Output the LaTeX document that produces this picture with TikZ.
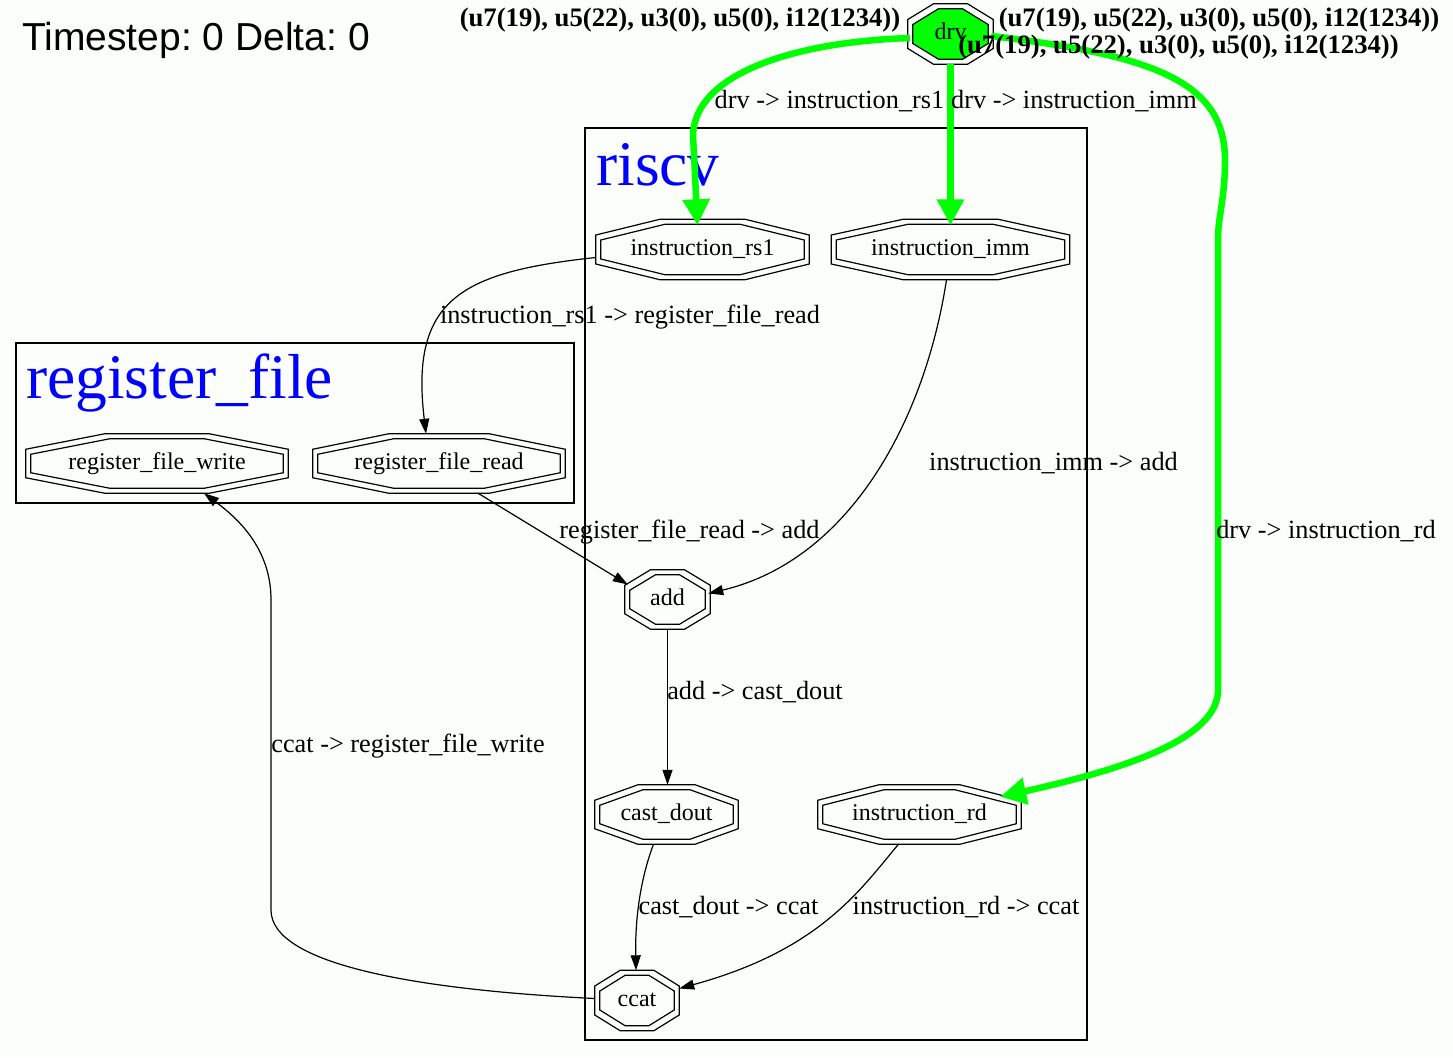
\documentclass[tikz,border=0pt]{standalone}
\usepackage{fontspec}
\setmainfont{Liberation Serif}
\newfontfamily\sansf{Liberation Sans}
\usetikzlibrary{calc,arrows.meta}
\definecolor{bg}{RGB}{252,254,252}
\definecolor{grn}{RGB}{0,255,0}
% double-octagon outline: #1 node name, #2 inset (px), #3 draw options
\newcommand\octo[3]{%
  \draw[#3] ($(#1.north west)!0.3!(#1.north east)+(#2,#2)$)
    -- ($(#1.north west)!0.7!(#1.north east)+(-#2,#2)$)
    -- ($(#1.north east)!0.26!(#1.south east)+(-#2,#2)$)
    -- ($(#1.north east)!0.74!(#1.south east)+(-#2,-#2)$)
    -- ($(#1.south west)!0.7!(#1.south east)+(-#2,-#2)$)
    -- ($(#1.south west)!0.3!(#1.south east)+(#2,-#2)$)
    -- ($(#1.north west)!0.74!(#1.south west)+(#2,-#2)$)
    -- ($(#1.north west)!0.26!(#1.south west)+(#2,#2)$)
    -- cycle;}
\newcommand\dbloct[2][]{\octo{#2}{0}{octline}\octo{#2}{5}{octline,#1}}
\frenchspacing
\begin{document}
\begin{tikzpicture}[x=1pt,y=-1pt,
  oct/.style={rectangle, inner sep=0pt, text height=16pt, text depth=5pt,
              font=\fontsize{24}{28}\selectfont},
  octline/.style={line width=1.2pt, draw=black},
  elab/.style={anchor=base, inner sep=0pt, font=\fontsize{26.3}{30}\selectfont},
  blab/.style={anchor=base, inner sep=0pt, font=\fontsize{26.7}{30}\selectfont\bfseries},
  edge/.style={line width=1.2pt, -{Triangle[length=15pt,width=10pt]}},
  gedge/.style={line width=6.5pt, draw=grn, -{Triangle[length=26pt,width=26pt]}},
  clus/.style={line width=1.2pt, draw=black},
  ctitle/.style={anchor=base west, inner sep=0pt, text=blue, font=\fontsize{63.5}{70}\selectfont}]
\useasboundingbox (0,0) rectangle (1453,1057);
\fill[bg] (0,0) rectangle (1453,1057);

% title
\node[anchor=base west, inner sep=0pt, font=\sansf\fontsize{39}{44}\selectfont] (ts) at (22,51) {Timestep: 0 Delta: 0};

% clusters
\draw[clus] (585,128) rectangle (1087,1040);
\node[ctitle] (triscv) at (596,185) {riscv};
\draw[clus] (16,343) rectangle (574,503);
\node[ctitle] (trf) at (26,398) {register\_file};

% nodes
\node[oct, minimum width=85pt, minimum height=60pt] (drv) at (950.5,34) {};
\dbloct[fill=grn]{drv}
\node[oct] (drvtext) at (drv.center) {drv};
\node[oct, minimum width=213pt, minimum height=60pt] (rs1) at (702.5,249.5) {instruction\_rs1};
\dbloct{rs1}
\node[oct, minimum width=238pt, minimum height=60pt] (imm) at (950.5,249.5) {instruction\_imm};
\dbloct{imm}
\node[oct, minimum width=262pt, minimum height=59pt] (rfw) at (157,463.5) {register\_file\_write};
\dbloct{rfw}
\node[oct, minimum width=252pt, minimum height=59pt] (rfr) at (439,463.5) {register\_file\_read};
\dbloct{rfr}
\node[oct, minimum width=85pt, minimum height=59pt] (add) at (667.5,599.5) {add};
\dbloct{add}
\node[oct, minimum width=143pt, minimum height=59pt] (cd) at (666.5,814.5) {cast\_dout};
\dbloct{cd}
\node[oct, minimum width=203pt, minimum height=59pt] (ird) at (919.5,814.5) {instruction\_rd};
\dbloct{ird}
\node[oct, minimum width=84pt, minimum height=60pt] (ccat) at (637,1000.5) {ccat};
\dbloct{ccat}

% black edges
\draw[edge] ($(rs1.west)+(0,8)$) .. controls (460,272) and (410,300) .. ($(rfr.north)+(-13,0)$);
\draw[edge] ($(imm.south)+(-4,0)$) .. controls (925,420) and (850,560) .. ($(add.east)+(-2,-6)$);
\draw[edge] ($(rfr.south)+(39,0)$) -- ($(add.west)+(3,-15)$);
\draw[edge] (add.south) -- (add.south |- cd.north);
\draw[edge] ($(cd.south)+(-13,0)$) .. controls (640,880) and (635,920) .. ($(ccat.north)+(-1,0)$);
\draw[edge] ($(ird.south)+(-21,0)$) .. controls (860,890) and (820,950) .. ($(ccat.east)+(0,-12)$);
\draw[edge] ($(ccat.west)+(0,-2)$) .. controls (420,990) and (271,965) .. (271,910)
   -- (271,600) .. controls (271,550) and (240,520) .. ($(rfw.south)+(47,0)$);

% green edges
\draw[gedge] ($(drv.west)+(2,4)$) .. controls (790,42) and (695,75) .. (693,135) -- ($(rs1.north)+(-5,6)$);
\draw[gedge] (drv.south) -- ($(imm.north)+(0,6)$);
\draw[gedge] ($(drv.east)+(-2,2)$) .. controls (1150,55) and (1225,80) .. (1225,160)
   .. controls (1225,200) and (1218,215) .. (1218,240) -- (1218,690)
   .. controls (1218,740) and (1120,770) .. ($(ird.north east)+(-21,12)$);

% edge labels
\node[elab] (l1) at (829.5,108) {drv -> instruction\_rs1};
\node[elab] (l2) at (1074,108) {drv -> instruction\_imm};
\node[elab] (l3) at (1326,538) {drv -> instruction\_rd};
\node[elab] (l4) at (630,323) {instruction\_rs1 -> register\_file\_read};
\node[elab] (l5) at (1053.5,470) {instruction\_imm -> add};
\node[elab] (l6) at (689.5,538) {register\_file\_read -> add};
\node[elab] (l7) at (755,699) {add -> cast\_dout};
\node[elab] (l8) at (728.5,914) {cast\_dout -> ccat};
\node[elab] (l9) at (966,914) {instruction\_rd -> ccat};
\node[elab] (l10) at (408,752) {ccat -> register\_file\_write};

% tuple labels
\node[blab] (b1) at (680,27) {(u7(19), u5(22), u3(0), u5(0), i12(1234))};
\node[blab] (b2) at (1219,27) {(u7(19), u5(22), u3(0), u5(0), i12(1234))};
\node[blab] (b3) at (1178.5,53) {(u7(19), u5(22), u3(0), u5(0), i12(1234))};
\end{tikzpicture}
\end{document}
